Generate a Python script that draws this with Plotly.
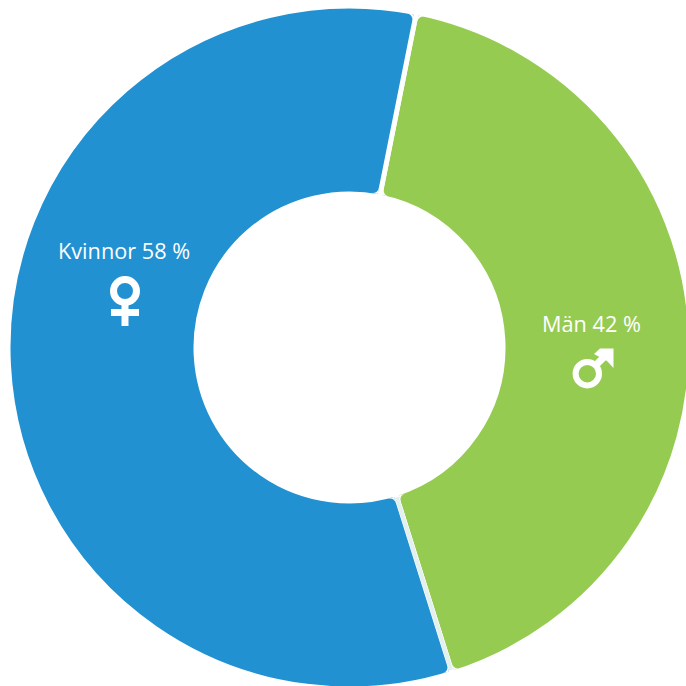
import math
import plotly.graph_objects as go

labels = ["Män", "Kvinnor"]
values = [42, 58]
colors = ["#96cb52", "#2191d2"]
label_texts = ["Män 42 %", "Kvinnor 58 %"]

W = H = 692
CX, CY = 349.5, 347.5
RO, RI = 339.0, 156.0
GAP = 5.0
CORNER = 7.0
ROT = 11.3
STROKE = 5.0
R_D = RO + STROKE / 2


def px(x, y):
    return x / W, 1 - y / H


def pt(x, y):
    a, b = px(x, y)
    return f"{a:.5f} {b:.5f}"


total = sum(values)
boundaries = [ROT, ROT + 360 * values[0] / total]
shapes = []


def radial(theta, r, side):
    t = math.radians(theta)
    ux, uy = math.sin(t), -math.cos(t)
    nx, ny = math.cos(t), math.sin(t)
    h = side * GAP / 2
    d = math.sqrt(r * r - h * h)
    return CX + d * ux + h * nx, CY + d * uy + h * ny, ux, uy, nx, ny


def poly(points):
    path = "M" + " L".join(pt(x, y) for x, y in points) + " Z"
    return dict(type="path", xref="paper", yref="paper", path=path,
                fillcolor="white", line=dict(width=0), layer="above")


def ring(x, y, r, width):
    a0, b0 = px(x - r, y + r)
    a1, b1 = px(x + r, y - r)
    return dict(type="circle", xref="paper", yref="paper", x0=a0, y0=b0, x1=a1, y1=b1,
                fillcolor="rgba(0,0,0,0)", line=dict(color="white", width=width), layer="above")


# pale seam at the lower boundary
x0, y0, *_ = radial(boundaries[1], RI + 1, 0)
x1, y1, *_ = radial(boundaries[1], RO - 1, 0)
ax, ay = px(x0, y0)
bx, by = px(x1, y1)
shapes.append(dict(type="line", xref="paper", yref="paper", x0=ax, y0=ay, x1=bx, y1=by,
                   line=dict(color="#e4f0ee", width=GAP - 1), layer="above"))

# rounded slice corners
for theta in boundaries:
    for side in (-1, 1):
        for r, sign in ((RO, -1), (RI, 1)):
            x, y, ux, uy, nx, ny = radial(theta, r, side)
            ex, ey = x + sign * CORNER * ux, y + sign * CORNER * uy
            a = math.atan2(y - CY, x - CX) + side * CORNER / r
            fx, fy = CX + r * math.cos(a), CY + r * math.sin(a)
            path = f"M{pt(x, y)} L{pt(ex, ey)} Q{pt(x, y)} {pt(fx, fy)} Z"
            shapes.append(dict(type="path", xref="paper", yref="paper", path=path,
                               fillcolor="white", line=dict(width=0), layer="above"))

# female icon
shapes.append(ring(125, 291, 11.5, 7))
shapes.append(poly([(121.5, 304), (128.5, 304), (128.5, 326), (121.5, 326)]))
shapes.append(poly([(111, 309), (139, 309), (139, 316), (111, 316)]))

# male icon
shapes.append(ring(587.3, 373.7, 11.7, 6))
shapes.append(poly([(592, 364), (605, 351), (610, 356), (597, 369)]))
shapes.append(poly([(600, 348.5), (613.5, 348.5), (613.5, 368), (607, 361), (594, 354)]))

fig = go.Figure(go.Pie(
    labels=labels, values=values, sort=False, direction="clockwise", rotation=ROT,
    hole=(RI - STROKE / 2) / R_D, textinfo="none", hoverinfo="none", showlegend=False,
    marker=dict(colors=colors, line=dict(color="white", width=STROKE)),
    domain=dict(x=[(CX - R_D) / W, (CX + R_D) / W], y=[1 - (CY + R_D) / H, 1 - (CY - R_D) / H]),
))

FONT = "Open Sans"
annotations = []
for text, (x, y) in zip(label_texts, [(591, 323), (124, 250)]):
    a, b = px(x, y)
    annotations.append(dict(text=text, x=a, y=b, xref="paper", yref="paper", showarrow=False,
                            xanchor="center", yanchor="middle",
                            font=dict(family=FONT, size=21.7, color="white")))

fig.update_layout(width=W, height=H, autosize=False, margin=dict(l=0, r=0, t=0, b=0),
                  paper_bgcolor="white", shapes=shapes, annotations=annotations)

fig.write_html("out.html", config=dict(displayModeBar=False),
               post_script="document.body.style.margin='0';document.documentElement.style.overflow='hidden';document.body.style.overflow='hidden';")
